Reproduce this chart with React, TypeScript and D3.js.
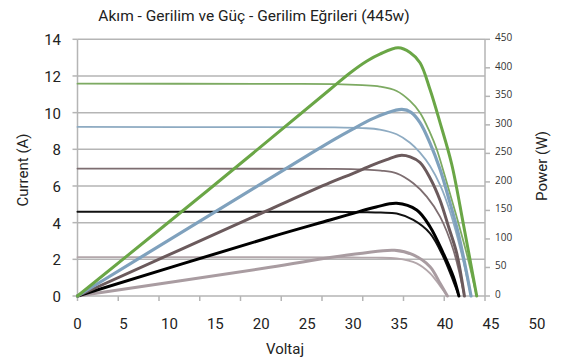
import React from "react";
import * as d3 from "d3";

const W = 563;
const H = 363;

const titleText = "Akım - Gerilim ve Güç - Gerilim Eğrileri (445w)";
const xTitle = "Voltaj";
const yLeftTitle = "Current (A)";
const yRightTitle = "Power (W)";

const xTickLabels = [0, 5, 10, 15, 20, 25, 30, 35, 40, 45, 50];
const leftTicks = [0, 2, 4, 6, 8, 10, 12, 14];
const rightTicks = [0, 50, 100, 150, 200, 250, 300, 350, 400, 450];
const minorTickCount = 10;

// [voltage, current A]
const currentGreen = [[0, 11.58], [20, 11.57], [28, 11.56], [31, 11.5], [32.9, 11.42], [34.73, 11.18], [36.18, 10.64], [37.27, 10.0], [38.36, 8.91], [39.09, 8.0], [40, 6.5], [41.1, 4.6], [42.3, 2.4], [43.44, 0]];
const currentBlue = [[0, 9.22], [20, 9.21], [28, 9.2], [31, 9.16], [32.9, 9.08], [34.73, 8.82], [36.18, 8.36], [37.27, 7.82], [38.36, 7.09], [39.5, 6.0], [40.6, 4.5], [41.7, 2.5], [42.82, 0]];
const currentBrown = [[0, 6.95], [20, 6.94], [28, 6.93], [31, 6.9], [33, 6.84], [34.73, 6.69], [36.54, 6.15], [38.0, 5.42], [39.45, 4.33], [40.9, 2.51], [42.1, 0]];
const currentBlack = [[0, 4.6], [20, 4.6], [28, 4.59], [31, 4.57], [33, 4.55], [34.73, 4.5], [36.54, 4.15], [38.36, 3.42], [39.8, 2.14], [40.9, 0.8], [41.5, 0]];
const currentLight = [[0, 2.12], [20, 2.12], [30, 2.1], [32.5, 2.09], [34.73, 2.05], [36.91, 1.78], [38.36, 1.24], [39.45, 0.55], [40.25, 0]];

// [voltage, power W]
const powerGreen = [[0, 0], [14.23, 185.8], [27.47, 362], [29.65, 391], [31.5, 412], [32.9, 424], [34.9, 435], [36.18, 427], [37.27, 409], [38.36, 362], [39.45, 304], [40.72, 231], [42, 125], [43.44, 0]];
const powerBlue = [[0, 0], [25, 246], [28, 275], [30, 293], [32, 310], [33.5, 320], [35.3, 327], [36.3, 322], [37.27, 304], [38.36, 268], [39.45, 222], [40.5, 165], [41.4, 112], [42.1, 60], [42.82, 0]];
const powerBrown = [[0, 0], [20.95, 152], [27.48, 198.6], [30, 215], [32, 229], [33.65, 239], [35.1, 246.5], [36.2, 244], [37.27, 234], [38.36, 207], [39.45, 168], [40.4, 120], [41.26, 75], [42.1, 0]];
const powerBlack = [[0, 0], [20.95, 103], [27.48, 133.2], [30, 145], [32.5, 156], [34.73, 162.5], [36.91, 150.8], [38.36, 121.5], [39.8, 74.9], [40.9, 33.8], [41.5, 0]];
const powerLight = [[0, 0], [20.95, 50.3], [27.48, 67.5], [31, 75], [34.5, 80], [36.54, 72], [38.36, 51.4], [39.45, 22.3], [40.25, 0]];

const currentSeries = [
  { data: currentLight, color: "#b3a7ab", width: 1.8 },
  { data: currentBlack, color: "#111111", width: 2 },
  { data: currentBrown, color: "#7d6d70", width: 1.8 },
  { data: currentBlue, color: "#8eabc2", width: 1.8 },
  { data: currentGreen, color: "#7daa62", width: 1.8 },
];
const powerSeries = [
  { data: powerLight, color: "#a99ca1", width: 3 },
  { data: powerBlack, color: "#000000", width: 3 },
  { data: powerBrown, color: "#6b5a5c", width: 3 },
  { data: powerBlue, color: "#7fa1bd", width: 3.2 },
  { data: powerGreen, color: "#6aa646", width: 3 },
];

const PL = 77.5, PR = 485, PT = 39.3, PB = 296;

export default function App() {
  const x = d3.scaleLinear().domain([0, 50]).range([PL, 537]);
  const xMinor = d3.scaleLinear().domain([0, minorTickCount]).range([PL, PR]);
  const yL = d3.scaleLinear().domain([0, 14]).range([PB, PT]);
  const yR = d3.scaleLinear().domain([0, 450]).range([PB, PT]);

  const curve = d3.curveCatmullRom.alpha(0.5);
  const lineI = d3.line<number[]>().x((d) => x(d[0])).y((d) => yL(d[1])).curve(curve);
  const lineP = d3.line<number[]>().x((d) => x(d[0])).y((d) => yR(d[1])).curve(curve);

  const grid = "#b5b5b5";
  const font = "Roboto, 'Noto Sans', sans-serif";

  return (
    <svg width={W} height={H} style={{ position: "absolute", left: 0, top: 0, background: "#fff" }}>
      <rect x={0} y={0} width={W} height={H} fill="#fff" />
      <text x={254} y={21} textAnchor="middle" fontFamily={font} fontSize={15.5} fill="#222">{titleText}</text>

      {leftTicks.filter((t) => t > 0).map((t) => (
        <line key={"g" + t} x1={PL} x2={PR} y1={yL(t)} y2={yL(t)} stroke={grid} strokeWidth={1.5} />
      ))}
      <line x1={PL} x2={PL} y1={PT} y2={PB} stroke={grid} strokeWidth={1.5} />
      {leftTicks.map((t) => (
        <line key={"lt" + t} x1={PL - 5} x2={PL} y1={yL(t)} y2={yL(t)} stroke={grid} strokeWidth={1.5} />
      ))}
      <line x1={PR} x2={PR} y1={PT} y2={PB} stroke={grid} strokeWidth={1.5} />
      {rightTicks.map((t) => (
        <line key={"rt" + t} x1={PR} x2={PR + 5} y1={yR(t)} y2={yR(t)} stroke={grid} strokeWidth={1.5} />
      ))}
      <line x1={PL} x2={PR} y1={PB} y2={PB} stroke={grid} strokeWidth={1.5} />
      {d3.range(minorTickCount + 1).map((i) => (
        <line key={"bt" + i} x1={xMinor(i)} x2={xMinor(i)} y1={PB} y2={PB + 5} stroke={grid} strokeWidth={1.5} />
      ))}

      <g fill="none" strokeLinejoin="round" strokeLinecap="round">
        {currentSeries.map((s, i) => (
          <path key={"c" + i} d={lineI(s.data as number[][]) || ""} stroke={s.color} strokeWidth={s.width} />
        ))}
        {powerSeries.map((s, i) => (
          <path key={"p" + i} d={lineP(s.data as number[][]) || ""} stroke={s.color} strokeWidth={s.width} />
        ))}
      </g>

      {leftTicks.map((t) => (
        <text key={"ll" + t} x={61} y={yL(t) + 1} textAnchor="end" dominantBaseline="central" fontFamily={font} fontSize={15} fill="#222">{t}</text>
      ))}
      {rightTicks.map((t) => (
        <text key={"rl" + t} x={495} y={yR(t) - 2} textAnchor="start" dominantBaseline="central" fontFamily="'Open Sans', sans-serif" fontSize={10} fill="#333">{t}</text>
      ))}
      {xTickLabels.map((t) => (
        <text key={"xl" + t} x={x(t)} y={329} textAnchor="middle" fontFamily={font} fontSize={15} fill="#222">{t}</text>
      ))}

      <text x={285} y={354} textAnchor="middle" fontFamily={font} fontSize={15} fill="#222">{xTitle}</text>
      <text transform={`translate(28,170) rotate(-90)`} textAnchor="middle" fontFamily={font} fontSize={15} fill="#222">{yLeftTitle}</text>
      <text transform={`translate(547,166) rotate(-90)`} textAnchor="middle" fontFamily={font} fontSize={15} fill="#222">{yRightTitle}</text>
    </svg>
  );
}
